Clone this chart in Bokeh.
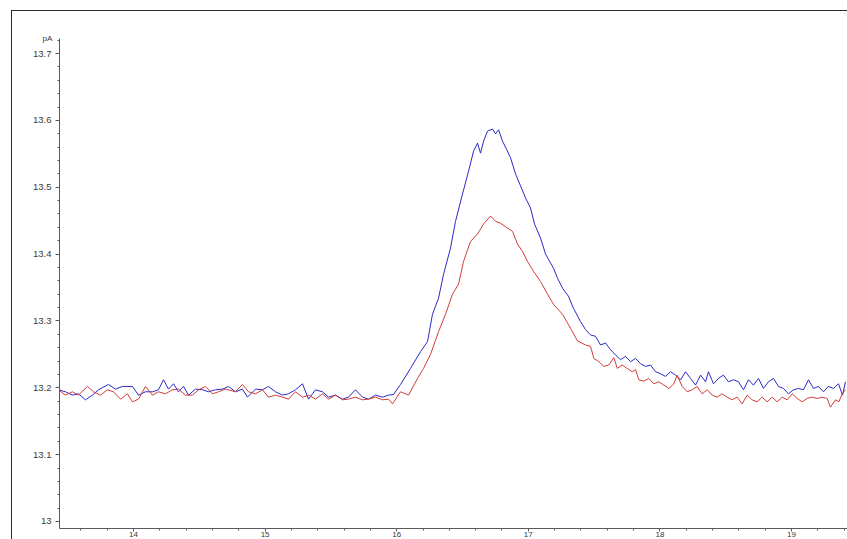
import numpy as np
from bokeh.plotting import figure
from bokeh.models import Range1d, FixedTicker
from bokeh.embed import file_html
from bokeh.resources import INLINE

# ---- data (retention time in min, signal in pA) ----
blue_time = [
    13.430, 13.483, 13.536, 13.582, 13.635, 13.688, 13.734, 13.810, 13.863, 13.916,
    13.992, 14.038, 14.091, 14.144, 14.190, 14.228, 14.266, 14.304, 14.342, 14.380,
    14.418, 14.471, 14.524, 14.570, 14.623, 14.676, 14.722, 14.775, 14.828, 14.866,
    14.927, 14.980, 15.026, 15.079, 15.132, 15.178, 15.231, 15.284, 15.330, 15.383,
    15.436, 15.482, 15.535, 15.588, 15.634, 15.687, 15.740, 15.786, 15.839, 15.892,
    15.938, 15.976, 16.029, 16.105, 16.181, 16.234, 16.272, 16.318, 16.356, 16.409,
    16.447, 16.500, 16.546, 16.584, 16.614, 16.637, 16.660, 16.690, 16.728, 16.751,
    16.774, 16.804, 16.834, 16.865, 16.903, 16.941, 16.979, 17.017, 17.047, 17.093,
    17.131, 17.191, 17.222, 17.260, 17.305, 17.343, 17.397, 17.435, 17.473, 17.511,
    17.549, 17.587, 17.625, 17.663, 17.701, 17.739, 17.777, 17.815, 17.853, 17.891,
    17.929, 17.967, 18.005, 18.043, 18.081, 18.119, 18.157, 18.195, 18.233, 18.271,
    18.309, 18.347, 18.369, 18.407, 18.445, 18.483, 18.521, 18.559, 18.597, 18.635,
    18.673, 18.711, 18.749, 18.787, 18.825, 18.863, 18.901, 18.939, 18.977, 19.015,
    19.053, 19.091, 19.129, 19.167, 19.205, 19.243, 19.280, 19.319, 19.357, 19.388,
    19.410,
]
blue_signal = [
    13.197, 13.194, 13.189, 13.191, 13.182, 13.189, 13.197, 13.205, 13.198, 13.202,
    13.202, 13.189, 13.194, 13.194, 13.197, 13.212, 13.198, 13.206, 13.194, 13.202,
    13.189, 13.198, 13.197, 13.194, 13.197, 13.198, 13.202, 13.194, 13.198, 13.186,
    13.198, 13.197, 13.202, 13.194, 13.189, 13.191, 13.197, 13.206, 13.183, 13.197,
    13.194, 13.186, 13.189, 13.183, 13.186, 13.197, 13.186, 13.183, 13.189, 13.186,
    13.189, 13.190, 13.205, 13.229, 13.254, 13.269, 13.310, 13.334, 13.370, 13.409,
    13.449, 13.490, 13.524, 13.554, 13.566, 13.551, 13.569, 13.584, 13.587, 13.580,
    13.586, 13.569, 13.557, 13.544, 13.520, 13.502, 13.484, 13.469, 13.445, 13.424,
    13.400, 13.379, 13.364, 13.349, 13.337, 13.319, 13.299, 13.287, 13.279, 13.277,
    13.264, 13.267, 13.257, 13.249, 13.242, 13.247, 13.239, 13.244, 13.236, 13.232,
    13.234, 13.224, 13.221, 13.217, 13.224, 13.219, 13.212, 13.224, 13.214, 13.204,
    13.219, 13.209, 13.224, 13.206, 13.214, 13.219, 13.209, 13.212, 13.209, 13.197,
    13.212, 13.204, 13.214, 13.199, 13.209, 13.214, 13.202, 13.199, 13.191, 13.197,
    13.199, 13.197, 13.212, 13.199, 13.202, 13.194, 13.202, 13.199, 13.206, 13.189,
    13.209,
]

red_time = [
    13.430, 13.483, 13.536, 13.582, 13.650, 13.696, 13.749, 13.802, 13.848, 13.901,
    13.954, 13.992, 14.038, 14.091, 14.144, 14.190, 14.243, 14.296, 14.342, 14.395,
    14.448, 14.494, 14.547, 14.600, 14.646, 14.699, 14.775, 14.828, 14.874, 14.927,
    14.980, 15.026, 15.079, 15.132, 15.178, 15.231, 15.284, 15.330, 15.383, 15.436,
    15.482, 15.535, 15.588, 15.634, 15.687, 15.740, 15.786, 15.839, 15.892, 15.938,
    15.968, 16.029, 16.090, 16.158, 16.204, 16.257, 16.318, 16.371, 16.424, 16.470,
    16.508, 16.561, 16.614, 16.660, 16.713, 16.751, 16.789, 16.842, 16.880, 16.918,
    16.956, 16.994, 17.040, 17.093, 17.146, 17.191, 17.260, 17.321, 17.374, 17.435,
    17.473, 17.498, 17.536, 17.574, 17.612, 17.650, 17.676, 17.713, 17.751, 17.789,
    17.815, 17.840, 17.878, 17.916, 17.954, 17.992, 18.030, 18.068, 18.106, 18.131,
    18.169, 18.207, 18.245, 18.283, 18.321, 18.359, 18.397, 18.435, 18.473, 18.511,
    18.549, 18.587, 18.625, 18.663, 18.701, 18.739, 18.777, 18.815, 18.853, 18.891,
    18.929, 18.967, 19.005, 19.043, 19.081, 19.119, 19.157, 19.195, 19.233, 19.271,
    19.296, 19.334, 19.360, 19.385, 19.410,
]
red_signal = [
    13.197, 13.189, 13.194, 13.189, 13.202, 13.194, 13.189, 13.197, 13.194, 13.183,
    13.191, 13.179, 13.183, 13.202, 13.189, 13.194, 13.191, 13.197, 13.198, 13.189,
    13.189, 13.197, 13.202, 13.191, 13.194, 13.198, 13.194, 13.205, 13.194, 13.191,
    13.197, 13.186, 13.189, 13.186, 13.183, 13.194, 13.186, 13.189, 13.183, 13.191,
    13.183, 13.189, 13.182, 13.183, 13.186, 13.182, 13.183, 13.186, 13.182, 13.183,
    13.176, 13.194, 13.189, 13.214, 13.229, 13.250, 13.284, 13.310, 13.340, 13.355,
    13.389, 13.419, 13.430, 13.445, 13.457, 13.449, 13.446, 13.439, 13.434, 13.415,
    13.404, 13.389, 13.374, 13.359, 13.340, 13.325, 13.310, 13.289, 13.270, 13.264,
    13.262, 13.244, 13.239, 13.232, 13.234, 13.245, 13.229, 13.234, 13.229, 13.224,
    13.227, 13.212, 13.210, 13.214, 13.206, 13.209, 13.204, 13.199, 13.206, 13.219,
    13.202, 13.194, 13.197, 13.202, 13.191, 13.197, 13.189, 13.186, 13.191, 13.186,
    13.182, 13.186, 13.176, 13.189, 13.182, 13.179, 13.186, 13.179, 13.186, 13.179,
    13.186, 13.182, 13.191, 13.184, 13.179, 13.184, 13.186, 13.184, 13.186, 13.184,
    13.171, 13.182, 13.179, 13.191, 13.197,
]

x_major_ticks = [14, 15, 16, 17, 18, 19]
y_major_ticks = [13.0, 13.1, 13.2, 13.3, 13.4, 13.5, 13.6, 13.7]
y_tick_labels = ["13", "13.1", "13.2", "13.3", "13.4", "13.5", "13.6", "13.7"]
y_unit = "pA"

# ---- figure ----
X_RANGE = (13.4377, 19.4255)
Y_RANGE = (12.9895, 13.7225)

p = figure(width=847, height=539, output_backend="svg", toolbar_location=None,
           x_range=Range1d(*X_RANGE), y_range=Range1d(*Y_RANGE),
           min_border_left=59, min_border_top=38, min_border_right=0,
           min_border_bottom=0, title=y_unit)
# outer frame lines of the original window (left and top edges)
p.styles = {
    "background": ("linear-gradient(#2b2b2b, #2b2b2b) 11px 10px / 1px 100% no-repeat, "
                   "linear-gradient(#2b2b2b, #2b2b2b) 11px 10px / 100% 1px no-repeat, "
                   "#ffffff"),
}
p.grid.visible = False
p.outline_line_color = None
p.background_fill_color = "white"
p.border_fill_color = None

# unit label "pA" at the top of the value axis
p.title.align = "left"
p.title.text_font = "Liberation Sans"
p.title.text_font_size = "8px"
p.title.text_font_style = "normal"
p.title.text_color = "#3a3a3a"
p.title.offset = -17
p.title.standoff = -8

x_minor = [round(v, 2) for v in np.arange(13.4, 19.61, 0.2)]
y_minor = [round(v, 2) for v in np.arange(12.98, 13.73, 0.02)]
p.xaxis.ticker = FixedTicker(ticks=x_major_ticks, minor_ticks=x_minor)
p.yaxis.ticker = FixedTicker(ticks=y_major_ticks, minor_ticks=y_minor)
p.yaxis.major_label_overrides = dict(zip(y_major_ticks, y_tick_labels))

for ax in (p.xaxis[0], p.yaxis[0]):
    ax.axis_line_color = "#5a5a5a"
    ax.major_tick_line_color = "#5a5a5a"
    ax.minor_tick_line_color = "#5a5a5a"
    ax.major_tick_in = 0
    ax.minor_tick_in = 0
    ax.major_tick_out = 4
    ax.minor_tick_out = 2
    ax.major_label_text_font = "Liberation Sans"
    ax.major_label_text_color = "#3a3a3a"

p.yaxis.major_label_text_font_size = "9.5px"
p.yaxis.major_label_standoff = 4
p.xaxis.major_label_text_font_size = "8px"
p.xaxis.major_label_standoff = 0
p.xaxis.major_tick_out = 3
p.xaxis.minor_tick_out = 2

p.line(blue_time, blue_signal, line_color="#2a2ac8", line_width=1)
p.line(red_time, red_signal, line_color="#d23c3c", line_width=1)

open("out.html", "w").write(file_html(p, INLINE))
